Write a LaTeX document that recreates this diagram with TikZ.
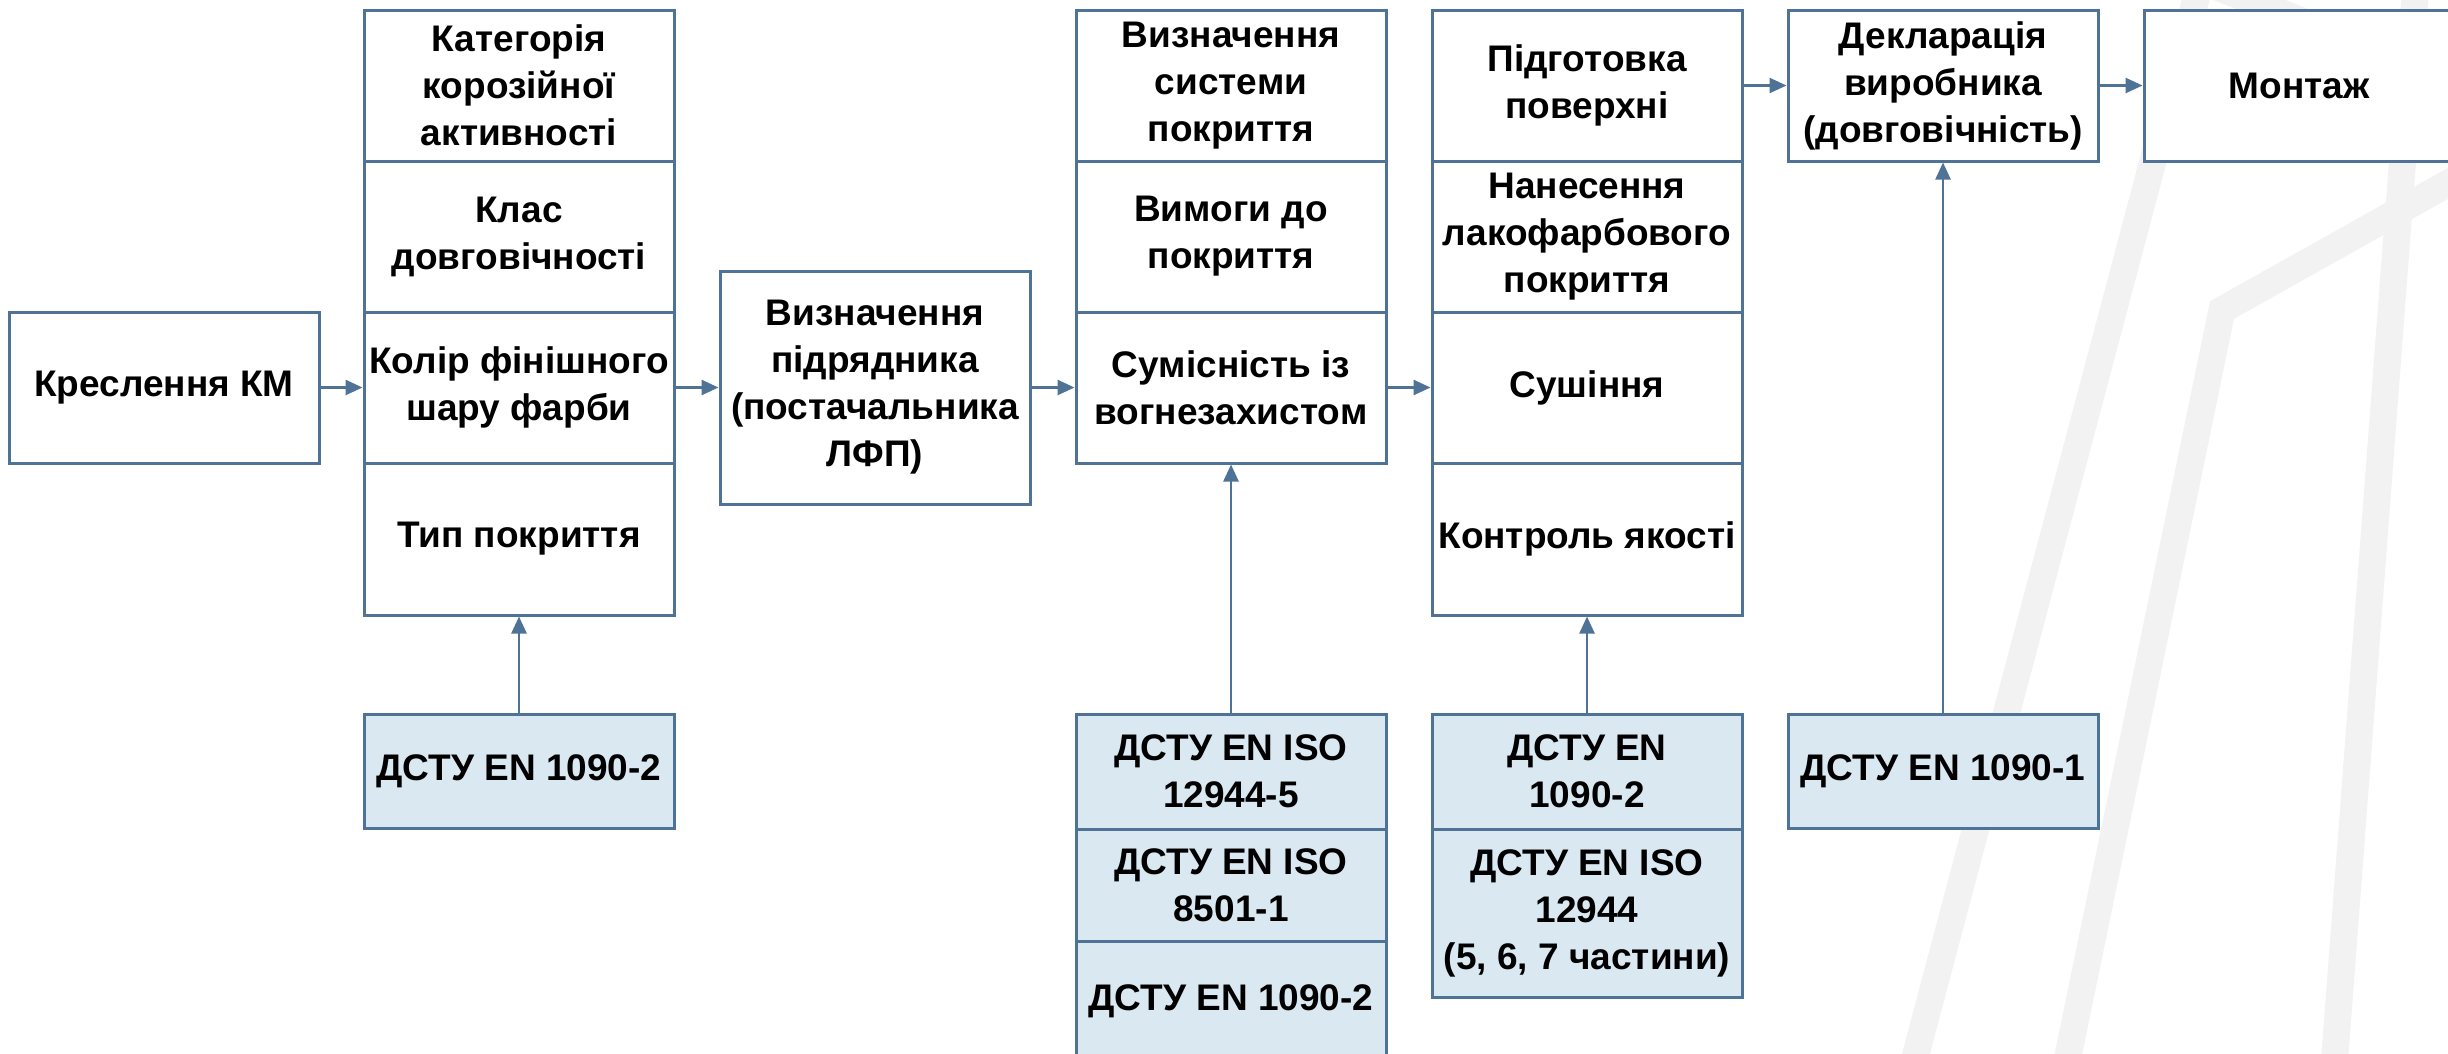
\documentclass[tikz,border=0pt]{standalone}
\usepackage{fontspec}
\setmainfont{Liberation Sans}
\usetikzlibrary{arrows.meta}
\definecolor{bordc}{HTML}{4F7396}
\definecolor{stdfill}{HTML}{DAE8F1}
\definecolor{decoc}{HTML}{F2F2F2}
\tikzset{
  box/.style={draw=bordc, line width=3pt, fill=white, minimum width=310pt,
    inner sep=0pt, align=center, font=\bfseries\fontsize{37}{47}\selectfont},
  stdbox/.style={box, fill=stdfill},
  arr/.style={draw=bordc, line width=2.5pt, -{Triangle[length=17pt,width=15pt]}},
  deco/.style={draw=decoc, line width=27pt, line join=miter}
}
\begin{document}
\begin{tikzpicture}[x=1pt,y=-1pt]
\useasboundingbox (0,0) rectangle (2448,1053);
\clip (0,0) rectangle (2448,1053);
\fill[white] (0,0) rectangle (2448,1053);
% decorative background lines
\draw[deco] (2201,-20) -- (1909,1080);
\draw[deco] (2200,-20) -- (2500,101);
\draw[deco] (2417,-30) -- (2333,1080);
\draw[deco] (2520,143) -- (2222,310) -- (2063,1080);
% main chain
\node[box, minimum height=151pt] (km) at (164,387.5) {Креслення КМ};
\node[box, minimum height=151pt] (c1a) at (519,85.5) {Категорія\\корозійної\\активності};
\node[box, minimum height=151pt] (c1b) at (519,236.5) {Клас\\довговічності};
\node[box, minimum height=151pt] (c1c) at (519,387.5) {Колір фінішного\\шару фарби};
\node[box, minimum height=152pt] (c1d) at (519,539) {Тип покриття};
\node[stdbox, minimum height=114pt] (s1) at (519,771) {ДСТУ EN 1090-2};
\node[box, minimum height=233pt] (b3) at (875,387.5) {Визначення\\підрядника\\(постачальника\\ЛФП)};
\node[box, minimum height=151pt] (c3a) at (1231,85.5) {Визначення\\системи\\покриття};
\node[box, minimum height=151pt] (c3b) at (1231,236.5) {Вимоги до\\покриття};
\node[box, minimum height=151pt] (c3c) at (1231,387.5) {Сумісність із\\вогнезахистом};
\node[stdbox, minimum height=115pt] (s3a) at (1231,771.5) {ДСТУ EN ISO\\12944-5};
\node[stdbox, minimum height=112pt] (s3b) at (1231,885) {ДСТУ EN ISO\\8501-1};
\node[stdbox, minimum height=120pt] (s3c) at (1231,1001) {ДСТУ EN 1090-2};
\node[box, minimum height=151pt] (c4a) at (1587,85.5) {Підготовка\\поверхні};
\node[box, minimum height=151pt] (c4b) at (1587,236.5) {Нанесення\\лакофарбового\\покриття};
\node[box, minimum height=151pt] (c4c) at (1587,387.5) {Сушіння};
\node[box, minimum height=152pt] (c4d) at (1587,539) {Контроль якості};
\node[stdbox, minimum height=115pt] (s4a) at (1587,771.5) {ДСТУ EN\\1090-2};
\node[stdbox, minimum height=168pt] (s4b) at (1587,913) {ДСТУ EN ISO\\12944\\(5, 6, 7 частини)};
\node[box, minimum height=151pt] (dec) at (1943,85.5) {Декларація\\виробника\\(довговічність)};
\node[box, minimum height=151pt] (mon) at (2299,85.5) {Монтаж};
\node[stdbox, minimum height=114pt] (s5) at (1943,771) {ДСТУ EN 1090-1};
% connectors
\draw[arr] (km.east) -- (c1c.west);
\draw[arr] (c1c.east) -- (b3.west);
\draw[arr] (b3.east) -- (c3c.west);
\draw[arr] (c3c.east) -- (c4c.west);
\draw[arr] (c4a.east) -- (dec.west);
\draw[arr] (dec.east) -- (mon.west);
\draw[arr] (s1.north) -- (c1d.south);
\draw[arr] (s3a.north) -- (c3c.south);
\draw[arr] (s4a.north) -- (c4d.south);
\draw[arr] (s5.north) -- (dec.south);
\end{tikzpicture}
\end{document}
